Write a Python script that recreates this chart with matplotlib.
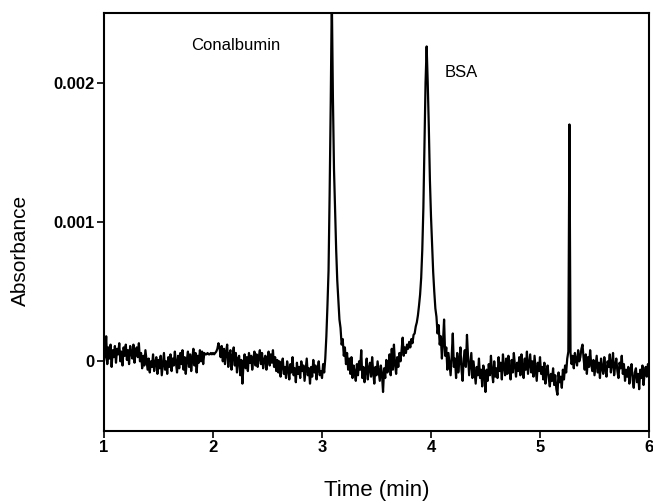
import numpy as np
import matplotlib
matplotlib.use("Agg")
import matplotlib.pyplot as plt

plt.rcParams["font.family"] = ["Liberation Sans", "DejaVu Sans"]

# time axis: 1.00 .. 6.00 min, one reading every 0.01 min
t_start = 1.0
t_step = 0.01

# absorbance, in units of 1e-5 AU (one row = 0.1 min)
absorbance_1e5 = [
    0, 4, 18, -2, 10, 2, 12, -4, 8, 3,            # 1.0
    11, -1, 9, 5, 13, 0, 7, -3, 10, 4,            # 1.1
    12, 1, 8, -2, 11, 6, 2, 12, -1, 7,            # 1.2
    10, 3, 13, 0, 6, -5, 4, -3, 8, 1,             # 1.3
    -6, 2, -8, 0, -4, 5, -7, -1, 3, -9,           # 1.4
    1, -5, 4, -10, -2, 6, -6, 0, -9, 3,           # 1.5
    -4, 5, -7, 2, -3, 7, -1, -8, 4, -5,           # 1.6
    6, -2, 8, -6, 3, -9, 1, 7, -4, 5,             # 1.7
    -7, 2, 9, -3, 6, -8, 4, -1, 8, 0,             # 1.8
    7, -2, 6, 5, 5, 6, 5, 5, 6, 5,                # 1.9
    6, 5, 6, 7, 9, 13, 10, 3, 11, 0,              # 2.0
    9, -2, 7, 12, -4, 5, 8, -6, 3, 10,            # 2.1
    -3, 6, -8, 2, 4, -10, 1, -16, -2, 5,          # 2.2
    -5, 3, -7, 6, -1, 4, -6, 2, 7, -3,            # 2.3
    5, -4, 3, 8, -2, 6, -5, 1, 4, -6,             # 2.4
    2, 7, -3, 5, -1, 8, -4, 3, -7, 1,             # 2.5
    -8, 0, -11, -3, 2, -9, -4, -12, 0, -6,        # 2.6
    -13, -2, -8, 3, -10, -5, -15, -1, -9, -4,     # 2.7
    -12, 0, -7, -3, -14, -6, 2, -10, -5, -16,     # 2.8
    -4, -11, 1, -8, -3, -13, -6, 0, -10, -7,      # 2.9
    -12, -2, -8, 2, 18, 40, 65, 120, 185, 262,    # 3.0  conalbumin
    190, 138, 108, 80, 58, 44, 30, 24, 12, 16,    # 3.1
    4, 10, -2, 6, -6, 2, -9, 3, -12, -3,          # 3.2
    -8, -14, -2, -10, 0, -6, 8, -12, -4, -15,     # 3.3
    -7, 2, -13, -5, -1, -11, 3, -8, -16, -4,      # 3.4
    -10, 0, -7, -14, -3, -9, -22, -5, -12, 1,     # 3.5
    -8, -3, 5, -10, 9, -6, 12, -2, -9, 3,         # 3.6
    -4, 6, 0, 8, 17, 4, 10, 6, 12, 9,             # 3.7
    14, 10, 16, 13, 19, 20, 25, 28, 33, 40,       # 3.8
    48, 60, 80, 110, 155, 200, 226, 200, 168, 130,  # 3.9  BSA
    104, 84, 64, 50, 38, 32, 20, 26, 12, 18,      # 4.0
    2, 14, 30, 4, 10, -6, 6, -2, -10, 4,          # 4.1
    20, -4, 2, -12, 6, -8, 0, 10, -6, -14,        # 4.2
    2, 8, -4, 19, 3, -10, -2, 6, -12, 0,          # 4.3
    -8, -16, -4, -10, 2, -12, -6, -18, -3, -9,    # 4.4
    -22, -6, -14, -2, -10, 4, -8, -15, 0, -11,    # 4.5
    -5, -12, 3, -7, -1, -13, 5, -4, -10, 2,       # 4.6
    -9, 4, -6, -13, 1, -8, 6, -3, -11, -1,        # 4.7
    -7, 3, -10, 5, -4, -12, 2, -6, 7, -9,         # 4.8
    -2, 5, -8, 0, -11, 4, -5, -14, -1, -7,        # 4.9
    3, -9, -4, -13, -1, -16, -7, -3, -12, -18,    # 5.0
    -9, -14, -5, -17, -10, -20, -24, -8, -15, -11,  # 5.1
    -19, -6, -13, -3, -8, 2, 7, 170, 6, -2,       # 5.2  spike
    4, -5, 6, 1, -3, 8, 0, 3, 9, 12,              # 5.3
    2, -6, 5, -9, 3, -4, 8, -2, -7, 1,            # 5.4
    -10, -3, 4, -8, -1, -12, 2, -5, -9, 3,        # 5.5
    -6, -11, 0, -4, 5, -8, -2, 6, -10, -3,        # 5.6
    2, -7, -12, -1, -5, 4, -9, -2, -14, -6,       # 5.7
    -11, -4, -16, -7, -2, -13, -19, -8, -5, -15,  # 5.8
    -9, -20, -6, -12, -3, -17, -8, -4, -11, -2,   # 5.9
    -5,                                           # 6.0
]

peak_names = ["Conalbumin", "BSA"]
peak_label_x = [2.21, 4.28]
peak_label_y = [0.00227, 0.00207]

x_ticks = [1, 2, 3, 4, 5, 6]
y_ticks = [0, 0.001, 0.002]
y_tick_labels = ["0", "0.001", "0.002"]

time = t_start + t_step * np.arange(len(absorbance_1e5))
absorbance = np.array(absorbance_1e5) * 1e-5

fig = plt.figure(figsize=(6.53, 5.04), dpi=100)
ax = fig.add_axes([104 / 653, 73 / 504, 545 / 653, 418 / 504])

ax.plot(time, absorbance, color="black", linewidth=1.6)

ax.set_xlim(1, 6)
ax.set_ylim(-0.0005, 0.0025)
ax.set_xticks(x_ticks)
ax.set_yticks(y_ticks)
ax.set_yticklabels(y_tick_labels)

for lbl in ax.get_xticklabels() + ax.get_yticklabels():
    lbl.set_fontweight("bold")
    lbl.set_fontsize(12)

ax.tick_params(direction="out", length=5, width=1.2, pad=1.5)
for side in ["top", "right", "left", "bottom"]:
    ax.spines[side].set_linewidth(1.5)

ax.set_xlabel("Time (min)", fontsize=16)
ax.set_ylabel("Absorbance", fontsize=15)
ax.xaxis.set_label_coords(0.5, -0.118)
ax.yaxis.set_label_coords(-0.136, 0.433)

for name, lx, ly in zip(peak_names, peak_label_x, peak_label_y):
    ax.text(lx, ly, name, fontsize=12, ha="center", va="center")

plt.savefig("out.png", dpi=100)
plt.close()
